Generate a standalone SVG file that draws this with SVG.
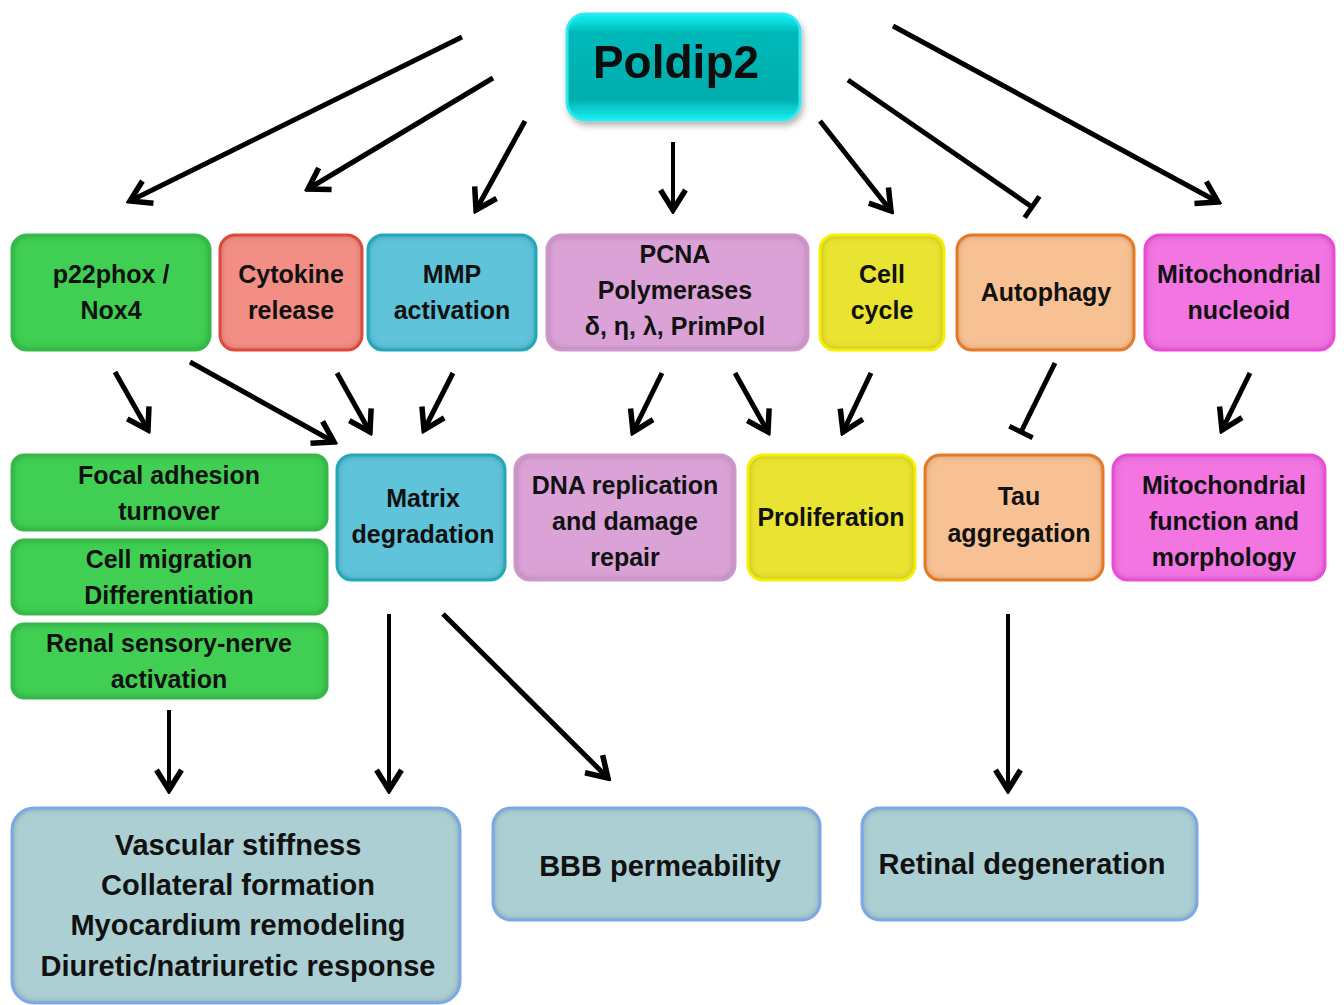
<svg xmlns="http://www.w3.org/2000/svg" width="1344" height="1005" viewBox="0 0 1344 1005">
<defs>
<style>
text{font-family:"Liberation Sans",Arial,sans-serif;font-weight:bold;fill:#111;text-anchor:middle}
.t25{font-size:25px}
.t29{font-size:29px}
.box{filter:url(#inner)}
.edge{fill:none;stroke-width:3}
.c path,.c line{stroke:#000;fill:none;stroke-width:5}
.c .thin{stroke-width:4}
</style>
<filter id="inner" x="-5%" y="-5%" width="110%" height="110%">
<feComponentTransfer in="SourceAlpha" result="inv"><feFuncA type="table" tableValues="1 0"/></feComponentTransfer>
<feGaussianBlur in="inv" stdDeviation="3.5" result="blur"/>
<feFlood flood-color="#000" flood-opacity="0.6"/>
<feComposite in2="blur" operator="in"/>
<feComposite in2="SourceAlpha" operator="in" result="shadow"/>
<feMerge><feMergeNode in="SourceGraphic"/><feMergeNode in="shadow"/></feMerge>
</filter>
<filter id="drop" x="-10%" y="-10%" width="125%" height="130%">
<feGaussianBlur in="SourceAlpha" stdDeviation="3"/>
<feOffset dx="2" dy="4" result="o"/>
<feFlood flood-color="#000" flood-opacity="0.3"/>
<feComposite in2="o" operator="in"/>
<feMerge><feMergeNode/><feMergeNode in="SourceGraphic"/></feMerge>
</filter>
<linearGradient id="cyan" x1="0" y1="0" x2="0" y2="1">
<stop offset="0" stop-color="#10f4f4"/>
<stop offset="0.18" stop-color="#00b8b8"/>
<stop offset="0.8" stop-color="#00aeae"/>
<stop offset="1" stop-color="#18f0f0"/>
</linearGradient>
<marker id="arr" markerUnits="userSpaceOnUse" viewBox="-26 -16 30 32" markerWidth="30" markerHeight="32" refX="0" refY="0" orient="auto">
<path d="M-20,-12.5 L0,0 L-20,12.5" fill="none" stroke="#000" stroke-width="5.5" stroke-linejoin="miter"/>
</marker>
<marker id="tbar" markerUnits="userSpaceOnUse" viewBox="-4 -16 8 32" markerWidth="8" markerHeight="32" refX="0" refY="0" orient="auto">
<line x1="0" y1="-13" x2="0" y2="13" stroke="#000" stroke-width="5"/>
</marker>
</defs>
<rect width="1344" height="1005" fill="#fff"/>

<g id="connectors" class="c">
<line x1="462" y1="37" x2="130" y2="201" marker-end="url(#arr)"/>
<line x1="493" y1="78" x2="308" y2="189" marker-end="url(#arr)"/>
<line x1="525" y1="121" x2="476" y2="210" marker-end="url(#arr)"/>
<line class="thin" x1="673" y1="142" x2="673" y2="210" marker-end="url(#arr)"/>
<line x1="820" y1="121" x2="891" y2="211" marker-end="url(#arr)"/>
<line x1="848" y1="80" x2="1032" y2="207" marker-end="url(#tbar)"/>
<line x1="893" y1="26" x2="1218" y2="202" marker-end="url(#arr)"/>
<line x1="115" y1="372" x2="148" y2="430" marker-end="url(#arr)"/>
<line x1="190" y1="362" x2="334" y2="442" marker-end="url(#arr)"/>
<line x1="337" y1="373" x2="370" y2="432" marker-end="url(#arr)"/>
<line x1="453" y1="373" x2="424" y2="430" marker-end="url(#arr)"/>
<line x1="662" y1="373" x2="633" y2="432" marker-end="url(#arr)"/>
<line x1="735" y1="373" x2="768" y2="432" marker-end="url(#arr)"/>
<line x1="871" y1="373" x2="843" y2="432" marker-end="url(#arr)"/>
<line x1="1055" y1="363" x2="1021" y2="432" marker-end="url(#tbar)"/>
<line x1="1250" y1="373" x2="1222" y2="430" marker-end="url(#arr)"/>
<line class="thin" x1="169" y1="710" x2="169" y2="790" marker-end="url(#arr)"/>
<line class="thin" x1="389" y1="614" x2="389" y2="790" marker-end="url(#arr)"/>
<line x1="443" y1="614" x2="608" y2="778" marker-end="url(#arr)"/>
<line class="thin" x1="1008" y1="614" x2="1008" y2="790" marker-end="url(#arr)"/>
</g>

<g id="poldip2" filter="url(#drop)">
<rect x="567" y="14" width="233" height="106" rx="18" fill="url(#cyan)" stroke="#30e8f0" stroke-width="3"/>
<text x="676" y="78" style="font-size:46px">Poldip2</text>
</g>

<g id="p22phox">
<rect class="box" x="12" y="235" width="198" height="115" rx="15" fill="#3fcf52"/>
<rect class="edge" x="12" y="235" width="198" height="115" rx="15" stroke="#36b84a"/>
<text class="t25" x="111" y="283">p22phox /</text>
<text class="t25" x="111" y="319">Nox4</text>
</g>
<g id="cytokine">
<rect class="box" x="220" y="235" width="142" height="115" rx="15" fill="#f38e85"/>
<rect class="edge" x="220" y="235" width="142" height="115" rx="15" stroke="#e0483a"/>
<text class="t25" x="291" y="283">Cytokine</text>
<text class="t25" x="291" y="319">release</text>
</g>
<g id="mmp">
<rect class="box" x="368" y="235" width="168" height="115" rx="15" fill="#5ec3da"/>
<rect class="edge" x="368" y="235" width="168" height="115" rx="15" stroke="#22a9b8"/>
<text class="t25" x="452" y="283">MMP</text>
<text class="t25" x="452" y="319">activation</text>
</g>
<g id="pcna">
<rect class="box" x="547" y="235" width="261" height="115" rx="15" fill="#daa2d6"/>
<rect class="edge" x="547" y="235" width="261" height="115" rx="15" stroke="#cf96cc"/>
<text class="t25" x="675" y="263">PCNA</text>
<text class="t25" x="675" y="299">Polymerases</text>
<text class="t25" x="675" y="335">δ, η, λ, PrimPol</text>
</g>
<g id="cellcycle">
<rect class="box" x="820" y="235" width="124" height="115" rx="15" fill="#e9e332"/>
<rect class="edge" x="820" y="235" width="124" height="115" rx="15" stroke="#f4f000"/>
<text class="t25" x="882" y="283">Cell</text>
<text class="t25" x="882" y="319">cycle</text>
</g>
<g id="autophagy">
<rect class="box" x="957" y="235" width="177" height="115" rx="15" fill="#f8c193"/>
<rect class="edge" x="957" y="235" width="177" height="115" rx="15" stroke="#e87822"/>
<text class="t25" x="1046" y="301">Autophagy</text>
</g>
<g id="mitonucleoid">
<rect class="box" x="1145" y="235" width="189" height="115" rx="15" fill="#f274e2"/>
<rect class="edge" x="1145" y="235" width="189" height="115" rx="15" stroke="#ee4ada"/>
<text class="t25" x="1239" y="283">Mitochondrial</text>
<text class="t25" x="1239" y="319">nucleoid</text>
</g>

<g id="focal">
<rect class="box" x="12" y="455" width="315" height="75" rx="12" fill="#3fcf52"/>
<rect class="edge" x="12" y="455" width="315" height="75" rx="12" stroke="#36b84a"/>
<text class="t25" x="169" y="484">Focal adhesion</text>
<text class="t25" x="169" y="520">turnover</text>
</g>
<g id="migration">
<rect class="box" x="12" y="540" width="315" height="74" rx="12" fill="#3fcf52"/>
<rect class="edge" x="12" y="540" width="315" height="74" rx="12" stroke="#36b84a"/>
<text class="t25" x="169" y="568">Cell migration</text>
<text class="t25" x="169" y="604">Differentiation</text>
</g>
<g id="renal">
<rect class="box" x="12" y="624" width="315" height="74" rx="12" fill="#3fcf52"/>
<rect class="edge" x="12" y="624" width="315" height="74" rx="12" stroke="#36b84a"/>
<text class="t25" x="169" y="652">Renal sensory-nerve</text>
<text class="t25" x="169" y="688">activation</text>
</g>
<g id="matrix">
<rect class="box" x="337" y="455" width="168" height="125" rx="15" fill="#5ec3da"/>
<rect class="edge" x="337" y="455" width="168" height="125" rx="15" stroke="#22a9b8"/>
<text class="t25" x="423" y="507">Matrix</text>
<text class="t25" x="423" y="543">degradation</text>
</g>
<g id="dna">
<rect class="box" x="515" y="455" width="220" height="125" rx="15" fill="#daa2d6"/>
<rect class="edge" x="515" y="455" width="220" height="125" rx="15" stroke="#cf96cc"/>
<text class="t25" x="625" y="494">DNA replication</text>
<text class="t25" x="625" y="530">and damage</text>
<text class="t25" x="625" y="566">repair</text>
</g>
<g id="proliferation">
<rect class="box" x="748" y="455" width="167" height="125" rx="15" fill="#e9e332"/>
<rect class="edge" x="748" y="455" width="167" height="125" rx="15" stroke="#f4f000"/>
<text class="t25" x="831" y="526">Proliferation</text>
</g>
<g id="tau">
<rect class="box" x="925" y="455" width="178" height="125" rx="15" fill="#f8c193"/>
<rect class="edge" x="925" y="455" width="178" height="125" rx="15" stroke="#e87822"/>
<text class="t25" x="1019" y="505">Tau</text>
<text class="t25" x="1019" y="542">aggregation</text>
</g>
<g id="mitofunction">
<rect class="box" x="1113" y="455" width="212" height="125" rx="15" fill="#f274e2"/>
<rect class="edge" x="1113" y="455" width="212" height="125" rx="15" stroke="#ee4ada"/>
<text class="t25" x="1224" y="494">Mitochondrial</text>
<text class="t25" x="1224" y="530">function and</text>
<text class="t25" x="1224" y="566">morphology</text>
</g>

<g id="vascular">
<rect class="box" x="12" y="808" width="448" height="195" rx="22" fill="#abcfd3"/>
<rect class="edge" x="12" y="808" width="448" height="195" rx="22" stroke="#7aa8ea"/>
<text class="t29" x="238" y="855">Vascular stiffness</text>
<text class="t29" x="238" y="895">Collateral formation</text>
<text class="t29" x="238" y="935">Myocardium remodeling</text>
<text class="t29" x="238" y="976">Diuretic/natriuretic response</text>
</g>
<g id="bbb">
<rect class="box" x="493" y="808" width="327" height="112" rx="18" fill="#abcfd3"/>
<rect class="edge" x="493" y="808" width="327" height="112" rx="18" stroke="#7aa8ea"/>
<text class="t29" x="660" y="876">BBB permeability</text>
</g>
<g id="retinal">
<rect class="box" x="862" y="808" width="335" height="112" rx="18" fill="#abcfd3"/>
<rect class="edge" x="862" y="808" width="335" height="112" rx="18" stroke="#7aa8ea"/>
<text class="t29" x="1022" y="874">Retinal degeneration</text>
</g>
</svg>
